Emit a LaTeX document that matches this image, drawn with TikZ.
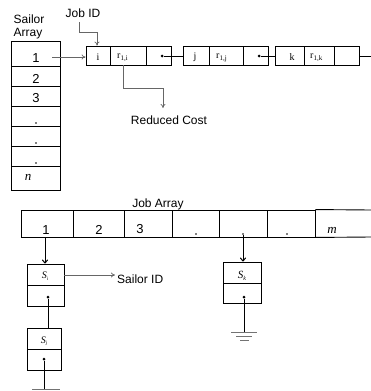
\documentclass[tikz,border=0pt]{standalone}
\usepackage{fontspec}
\setmainfont{Liberation Sans}
\newfontfamily\serif{Liberation Serif}
\usetikzlibrary{arrows.meta}
\begin{document}
\begin{tikzpicture}[x=1pt,y=-1pt,
  cell/.style={draw=black,line width=0.9pt,inner sep=0pt,minimum width=#1},
  scell/.style={cell=49pt},
  lbl/.style={inner sep=0pt,font=\fontsize{13}{13}\selectfont},
  txt/.style={inner sep=0pt,font=\fontsize{12}{12}\selectfont},
  ctxt/.style={inner sep=0pt,font=\fontsize{10}{10}\serif},
  garrow/.style={draw=black!60,line width=0.7pt,-{To[length=4pt,width=5pt]}},
  barrow/.style={draw=black,line width=1pt,-{To[length=4pt,width=6pt]}},
  gline/.style={draw=black!55,line width=0.9pt},
  bline/.style={draw=black,line width=0.9pt},
  dotc/.style={circle,fill=black,inner sep=0pt,minimum size=3pt},
  sdot/.style={circle,fill=black,inner sep=0pt,minimum size=1.8pt}]
\useasboundingbox (0,0) rectangle (371,391);

% ---------- Sailor array ----------
\node[txt] (sailor) at (29,19) {Sailor};
\node[txt] (array) at (28,34) {Array};
\node[scell,minimum height=25pt] (s1) at (35.5,53.5) {};
\node[scell,minimum height=20pt] (s2) at (35.5,76) {};
\node[scell,minimum height=20pt] (s3) at (35.5,96) {};
\node[scell,minimum height=20pt] (s4) at (35.5,116) {};
\node[scell,minimum height=20pt] (s5) at (35.5,136) {};
\node[scell,minimum height=20pt] (s6) at (35.5,156) {};
\node[scell,minimum height=24pt] (s7) at (35.5,178) {};
\node[lbl] (t1) at (36,58) {1};
\node[lbl] (t2) at (36,79) {2};
\node[lbl] (t3) at (36,98) {3};
\node[sdot] (d4) at (36,123) {};
\node[sdot] (d5) at (36,143) {};
\node[sdot] (d6) at (36,163) {};
\node[lbl,font=\fontsize{13}{13}\serif\itshape] (tn) at (28,177) {n};

% ---------- linked list of jobs ----------
\node[cell=24pt,minimum height=19pt] (bi) at (98,55.5) {};
\node[cell=36pt,minimum height=19pt] (ri) at (128,55.5) {};
\node[cell=25pt,minimum height=19pt] (pi) at (158.5,55.5) {};
\node[cell=26pt,minimum height=19pt] (bj) at (196,55.5) {};
\node[cell=34pt,minimum height=19pt] (rj) at (226,55.5) {};
\node[cell=25pt,minimum height=19pt] (pj) at (255.5,55.5) {};
\node[cell=29pt,minimum height=19pt] (bk) at (289.5,55.5) {};
\node[cell=30pt,minimum height=19pt] (rk) at (319,55.5) {};
\node[cell=25pt,minimum height=19pt] (pk) at (346.5,55.5) {};

\node[ctxt] (li) at (98,57) {i};
\node[ctxt] (lj) at (195,57) {j};
\node[ctxt] (lk) at (292,57) {k};
\node[ctxt,anchor=west] (lri) at (117,58) {r\raisebox{-2pt}{\fontsize{7}{7}\selectfont 1,i}};
\node[ctxt,anchor=west] (lrj) at (216,58) {r\raisebox{-2pt}{\fontsize{7}{7}\selectfont 1,j}};
\node[ctxt,anchor=west] (lrk) at (310,58) {r\raisebox{-2pt}{\fontsize{7}{7}\selectfont 1,k}};

\node[dotc] (dpi) at (162,56) {};
\node[dotc] (dpj) at (259,56) {};
\draw[bline] (dpi) -- (dpi -| bj.west);
\draw[bline] (dpj) -- (dpj -| bk.west);
\coordinate (lend) at (371,56);
\draw[bline] (pk.east |- lend) -- (lend);

% sailor 1 -> first job
\coordinate (sa) at (52,57);
\draw[garrow] (sa) -- (sa -| bi.west);

% Job ID label
\node[txt] (jobid) at (83,13) {Job ID};
\coordinate (j0) at (79,22);
\coordinate (j1) at (97,32);
\draw[garrow] (j0) |- (j1) -- (j1 |- bi.north);

% Reduced cost
\node[txt] (rc) at (169,120) {Reduced Cost};
\coordinate (r0) at (123,65);
\coordinate (r1) at (163,88);
\coordinate (r2) at (163,108);
\draw[garrow] (r0) |- (r1) -- (r2);

% ---------- Job array ----------
\node[txt] (jobarr) at (158,204) {Job Array};
\node[cell=52pt,minimum height=27pt] (a1) at (47,223.5) {};
\node[cell=51pt,minimum height=27pt] (a2) at (98.5,223.5) {};
\node[cell=48pt,minimum height=27pt] (a3) at (148,223.5) {};
\node[cell=47pt,minimum height=27pt] (a4) at (195.5,223.5) {};
\node[cell=48pt,minimum height=27pt] (a5) at (243,223.5) {};
\node[cell=48pt,minimum height=27pt] (a6) at (291,223.5) {};
\coordinate (aend) at (371,210);
\coordinate (aendb) at (371,237);
\draw[bline] (a6.north east) -- (aend);
\draw[bline] (a6.south east) -- (aendb);

\node[lbl] (u1) at (46,230) {1};
\node[lbl] (u2) at (99,230) {2};
\node[lbl] (u3) at (140,229) {3};
\node[sdot] (u4) at (196,234) {};
\node[sdot] (u5) at (243,234) {};
\node[sdot] (u6) at (287,234) {};
\node[lbl,font=\fontsize{13}{13}\serif\itshape] (um) at (332,230) {m};

% S_i, S_j chain
\node[cell=37pt,minimum height=21pt] (si) at (45.5,274.5) {};
\node[cell=37pt,minimum height=21pt] (sib) at (45.5,295.5) {};
\node[ctxt,font=\fontsize{10}{10}\serif\itshape] (lsi) at (45,276) {S\raisebox{-1.5pt}{\fontsize{5}{5}\selectfont i}};
\coordinate (a1b) at (45,237);
\draw[barrow] (a1b) -- (a1b |- si.north);
\node[txt,anchor=west] (sid) at (117,279) {Sailor ID};
\coordinate (sidc) at (115,275);
\draw[garrow] (si.east |- sidc) -- (sidc);

\node[dotc] (dsi) at (48,297) {};
\node[cell=34pt,minimum height=21pt] (sj) at (44,338.5) {};
\node[cell=34pt,minimum height=21pt] (sjb) at (44,359.5) {};
\node[ctxt,font=\fontsize{10}{10}\serif\itshape] (lsj) at (44,341) {S\raisebox{-1.5pt}{\fontsize{5}{5}\selectfont j}};
\draw[bline] (dsi) -- (dsi |- sj.north);
\node[dotc] (dsj) at (44,359) {};
\coordinate (gj) at (44,389);
\draw[bline] (dsj) -- (gj);
\coordinate (gjl) at (32,389);
\coordinate (gjr) at (60,389);
\draw[gline] (gjl) -- (gjr);

% S_k
\node[cell=38pt,minimum height=21pt] (sk) at (242,272.5) {};
\node[cell=38pt,minimum height=20pt] (skb) at (242,293) {};
\node[ctxt,font=\fontsize{11}{11}\serif\itshape] (lsk) at (242,276) {S\raisebox{-1.5pt}{\fontsize{6}{6}\selectfont k}};
\draw[barrow] (u5) -- (u5 |- sk.north);
\node[dotc] (dsk) at (244,297) {};
\coordinate (gk) at (244,332);
\draw[bline] (dsk) -- (gk);
\coordinate (g1l) at (231,332); \coordinate (g1r) at (257,332);
\coordinate (g2l) at (236,336); \coordinate (g2r) at (252,336);
\coordinate (g3l) at (240,340); \coordinate (g3r) at (249,340);
\draw[gline] (g1l) -- (g1r);
\draw[gline] (g2l) -- (g2r);
\draw[gline] (g3l) -- (g3r);
\end{tikzpicture}
\end{document}
